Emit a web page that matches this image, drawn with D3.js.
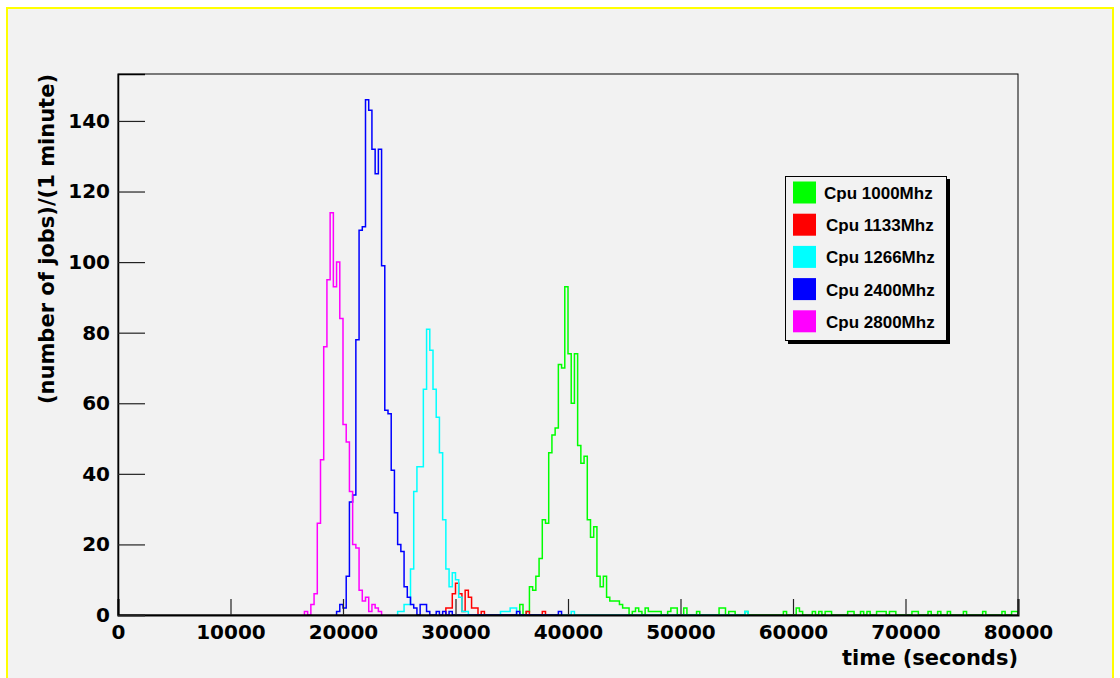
<!DOCTYPE html>
<html>
<head>
<meta charset="utf-8">
<script src="https://cdn.jsdelivr.net/npm/d3@7"></script>
<style>
  body { margin: 0; background: #fff; }
  svg { display: block; }
</style>
</head>
<body>
<svg id="chart" width="1120" height="678"></svg>
<script>
// histogram binning: 280 bins over 0..80000 s
const xRange = [0, 80000];
const nBins = 280;
const yMax = 153.3;

const seriesNames = ["Cpu 1000Mhz", "Cpu 1133Mhz", "Cpu 1266Mhz", "Cpu 2400Mhz", "Cpu 2800Mhz"];
const seriesColors = ["#00ff00", "#ff0000", "#00ffff", "#0000ff", "#ff00ff"];

// first bin index of each series, then counts per bin
const firstBin = [125, 102, 87, 68, 58];

const cpu1000 = [
  3, 0, 1, 8, 7, 11, 16, 27, 26, 46, 51, 53, 71, 70, 93, 74, 60, 74, 48, 43,
  45, 27, 22, 25, 11, 8, 11, 5, 4, 4, 4, 3, 2, 2, 0, 1, 2, 1, 0, 2,
  1, 1, 1, 1, 0, 0, 1, 2, 2, 0, 0, 2, 0, 0, 0, 1, 0, 0, 0, 0,
  0, 0, 2, 2, 0, 1, 1, 0, 0, 0, 1, 0, 0, 0, 0, 0, 0, 0, 0, 0,
  0, 0, 1, 0, 0, 0, 2, 1, 0, 0, 0, 1, 0, 1, 0, 1, 1, 0, 0, 0,
  0, 0, 1, 1, 0, 0, 1, 0, 1, 0, 0, 1, 1, 1, 0, 1, 1, 0, 0, 0,
  0, 0, 1, 1, 0, 0, 0, 1, 0, 0, 1, 0, 0, 1, 0, 0, 0, 0, 1, 0,
  0, 0, 0, 0, 1, 0, 0, 0, 0, 0, 1, 0, 0, 1, 1
];
const cpu1133 = [
  2, 2, 6, 9, 6, 1, 7, 5, 2, 2, 0, 1, 0, 0, 0, 0, 0, 0, 0, 0,
  0, 0, 0, 0, 0, 1, 0, 0, 0, 0, 1
];
const cpu1266 = [
  1, 1, 3, 3, 13, 35, 42, 42, 64, 81, 75, 64, 56, 46, 27, 13, 8, 12, 10, 5,
  1, 1, 0, 0, 0, 0, 0, 0, 0, 0, 0, 0, 1, 1, 1, 2, 2, 0, 0, 0,
  0, 0, 0, 0, 0, 0, 0, 0, 0, 0, 0, 0, 0, 0, 1, 0, 0, 0, 0, 0,
  0, 0, 0, 0, 0, 0, 0, 0, 0, 0, 0, 0, 0, 0, 0, 0, 0, 0, 0, 0,
  0, 0, 0, 0, 0, 0, 0, 0, 0, 0, 0, 0, 0, 0, 0, 0, 0, 0, 0, 0,
  0, 0, 0, 0, 0, 0, 0, 0, 1
];
const cpu2400 = [
  1, 3, 2, 11, 32, 34, 78, 109, 110, 146, 143, 132, 125, 132, 99, 58, 57, 41, 29, 20,
  18, 8, 5, 3, 2, 0, 3, 3, 1, 0, 0, 1, 0, 1, 0, 1, 0, 0, 0, 0,
  0, 0, 0, 0, 0, 0, 0, 0, 0, 0, 0, 0, 0, 0, 0, 0, 1, 0, 0, 0,
  0, 0, 0, 0, 0, 0, 0, 0, 0, 1
];
const cpu2800 = [
  1, 0, 3, 6, 26, 44, 76, 95, 114, 93, 100, 84, 54, 49, 35, 20, 19, 7, 4, 5,
  1, 3, 2, 1
];
const seriesCounts = [cpu1000, cpu1133, cpu1266, cpu2400, cpu2800];

const xMajorTicks = d3.range(0, 80001, 10000);
const xMinorTicks = d3.range(0, 80001, 2000);
const yMajorTicks = d3.range(0, 141, 20);
const yMinorTicks = d3.range(0, 151, 5);

const xTitle = "time (seconds)";
const yTitle = "(number of jobs)/(1 minute)";

const binWidth = (xRange[1] - xRange[0]) / nBins;

const svg = d3.select("#chart");
const plotLeft = 118, plotRight = 1018, plotTop = 74, plotBottom = 615;

const x = d3.scaleLinear().domain(xRange).range([plotLeft, plotRight]);
const y = d3.scaleLinear().domain([0, yMax]).range([plotBottom, plotTop]);

// canvas with yellow frame
svg.append("rect")
  .attr("x", 7).attr("y", 8)
  .attr("width", 1106).attr("height", 700)
  .attr("fill", "#f2f2f2")
  .attr("stroke", "#ffff00")
  .attr("stroke-width", 2);

svg.append("defs").append("clipPath").attr("id", "plotclip")
  .append("rect")
  .attr("x", plotLeft).attr("y", plotTop)
  .attr("width", plotRight - plotLeft).attr("height", plotBottom - plotTop);

// histograms
const line = d3.line().x(d => x(d[0])).y(d => y(d[1]));

function histPoints(first, counts) {
  const pts = [[first * binWidth, 0]];
  counts.forEach((c, i) => {
    const x0 = (first + i) * binWidth;
    pts.push([x0, c], [x0 + binWidth, c]);
  });
  pts.push([(first + counts.length) * binWidth, 0]);
  return pts;
}

svg.append("g")
  .attr("clip-path", "url(#plotclip)")
  .selectAll("path")
  .data(seriesCounts)
  .enter()
  .append("path")
  .attr("d", (d, i) => line(histPoints(firstBin[i], d)))
  .attr("fill", "none")
  .attr("stroke", (d, i) => seriesColors[i])
  .attr("stroke-width", 1.5);

// frame
svg.append("rect")
  .attr("x", plotLeft).attr("y", plotTop)
  .attr("width", plotRight - plotLeft).attr("height", plotBottom - plotTop)
  .attr("fill", "none")
  .attr("stroke", "#000")
  .attr("stroke-width", 1);

const tickFont = "'DejaVu Sans', sans-serif";

// x axis
const xAxisG = svg.append("g").attr("transform", `translate(0,${plotBottom})`);
xAxisG.call(d3.axisBottom(x).tickValues(xMinorTicks).tickSize(-8).tickFormat(""));
xAxisG.call(d3.axisBottom(x).tickValues(xMajorTicks).tickSize(-16).tickPadding(10).tickFormat(d3.format("d")));
xAxisG.selectAll(".domain").attr("stroke", "#000").attr("stroke-width", 2);
xAxisG.selectAll(".tick line").attr("stroke", "#222").attr("stroke-width", 1.2);
xAxisG.selectAll("text")
  .attr("font-family", tickFont)
  .attr("font-weight", "bold")
  .attr("font-size", 20)
  .attr("fill", "#000");

// y axis
const yAxisG = svg.append("g").attr("transform", `translate(${plotLeft},0)`);
yAxisG.call(d3.axisLeft(y).tickValues(yMinorTicks).tickSize(-14).tickFormat(""));
yAxisG.call(d3.axisLeft(y).tickValues(yMajorTicks).tickSize(-27).tickPadding(8).tickFormat(d3.format("d")));
yAxisG.selectAll(".domain").attr("stroke", "#000").attr("stroke-width", 1.5);
yAxisG.selectAll(".tick line").attr("stroke", "#222").attr("stroke-width", 1.2);
yAxisG.selectAll("text")
  .attr("font-family", tickFont)
  .attr("font-weight", "bold")
  .attr("font-size", 20)
  .attr("fill", "#000");

// axis titles
svg.append("text")
  .attr("x", plotRight)
  .attr("y", 665)
  .attr("text-anchor", "end")
  .attr("font-family", tickFont)
  .attr("font-weight", "bold")
  .attr("font-size", 21)
  .text(xTitle);

svg.append("text")
  .attr("transform", `translate(54,${plotTop}) rotate(-90)`)
  .attr("text-anchor", "end")
  .attr("font-family", tickFont)
  .attr("font-weight", "bold")
  .attr("font-size", 21)
  .text(yTitle);

// legend
const legend = svg.append("g");
legend.append("rect")
  .attr("x", 788).attr("y", 179)
  .attr("width", 162).attr("height", 165)
  .attr("fill", "#000");
legend.append("rect")
  .attr("x", 785.5).attr("y", 176.5)
  .attr("width", 161).attr("height", 164)
  .attr("fill", "#f2f2f2")
  .attr("stroke", "#000")
  .attr("stroke-width", 1);

const rows = legend.selectAll(".entry")
  .data(seriesNames)
  .enter()
  .append("g")
  .attr("class", "entry")
  .attr("transform", (d, i) => `translate(0,${192.5 + i * 32.2})`);

rows.append("rect")
  .attr("x", 793).attr("y", -11)
  .attr("width", 23).attr("height", 22)
  .attr("fill", (d, i) => seriesColors[i]);

rows.append("text")
  .attr("x", (d, i) => i === 0 ? 824 : 826)
  .attr("y", 6.5)
  .attr("font-family", "'Liberation Sans', Arial, sans-serif")
  .attr("font-weight", "bold")
  .attr("font-size", 17)
  .attr("fill", "#000")
  .text(d => d);
</script>
</body>
</html>
